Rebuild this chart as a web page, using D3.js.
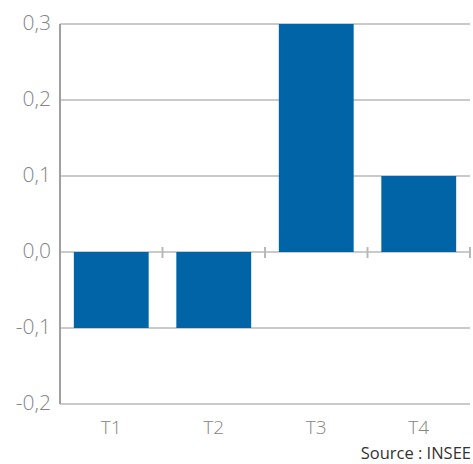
<!DOCTYPE html>
<html>
<head>
<meta charset="utf-8">
<script src="https://cdn.jsdelivr.net/npm/d3@7"></script>
<style>
  body { margin: 0; background: #fff; }
  text { font-family: "Open Sans", sans-serif; }
</style>
</head>
<body>
<svg id="chart"></svg>
<script>
const categories = ['T1', 'T2', 'T3', 'T4'];
const values = [-0.1, -0.1, 0.3, 0.1];
const yTicks = [-0.2, -0.1, 0.0, 0.1, 0.2, 0.3];

const svg = d3.select('#chart')
  .attr('width', 473)
  .attr('height', 464);

const margin = { top: 24, right: 3, bottom: 60, left: 60 };
const width = +svg.attr('width') - margin.left - margin.right;
const height = +svg.attr('height') - margin.top - margin.bottom;

const x = d3.scaleBand()
  .domain(categories)
  .range([0, width])
  .paddingInner(0.27)
  .paddingOuter(0.135);

const y = d3.scaleLinear()
  .domain([-0.2, 0.3])
  .range([height, 0]);

const g = svg.append('g')
  .attr('transform', `translate(${margin.left},${margin.top})`);

// horizontal gridlines
g.selectAll('.grid')
  .data(yTicks)
  .enter()
  .append('line')
  .attr('x1', 0)
  .attr('x2', width)
  .attr('y1', d => y(d))
  .attr('y2', d => y(d))
  .style('stroke', '#b8b8b8')
  .style('stroke-width', 1.5);

// bars
g.selectAll('.bar')
  .data(values)
  .enter()
  .append('rect')
  .attr('x', (d, i) => x(categories[i]))
  .attr('y', d => y(Math.max(0, d)))
  .attr('width', x.bandwidth())
  .attr('height', d => Math.abs(y(d) - y(0)))
  .style('fill', '#0064a6');

// category separators on the zero line
g.selectAll('.sep')
  .data(categories)
  .enter()
  .append('line')
  .attr('x1', (c, i) => (i + 1) * width / categories.length)
  .attr('x2', (c, i) => (i + 1) * width / categories.length)
  .attr('y1', y(0) - 5)
  .attr('y2', y(0) + 6)
  .style('stroke', '#b8b8b8')
  .style('stroke-width', 2);

// y axis line
g.append('line')
  .attr('x1', 0).attr('x2', 0)
  .attr('y1', 0).attr('y2', height)
  .style('stroke', '#a0a0a0')
  .style('stroke-width', 2);

// y labels
g.selectAll('.ylab')
  .data(yTicks)
  .enter()
  .append('text')
  .attr('x', -9)
  .attr('y', d => y(d) - 2)
  .attr('dy', '0.36em')
  .attr('text-anchor', 'end')
  .text(d => d3.format('.1f')(d).replace('.', ',').replace('−', '-'))
  .style('font-size', '21px')
  .style('font-weight', 300)
  .style('fill', '#858585');

// x labels
g.selectAll('.xlab')
  .data(categories)
  .enter()
  .append('text')
  .attr('x', d => x(d) + x.bandwidth() / 2)
  .attr('y', height + 30)
  .attr('text-anchor', 'middle')
  .text(d => d)
  .style('font-size', '19px')
  .style('font-weight', 300)
  .style('fill', '#858585');

// source
svg.append('text')
  .attr('x', 471)
  .attr('y', 459)
  .attr('text-anchor', 'end')
  .text('Source : INSEE')
  .style('font-size', '16.5px')
  .style('fill', '#333');
</script>
</body>
</html>
